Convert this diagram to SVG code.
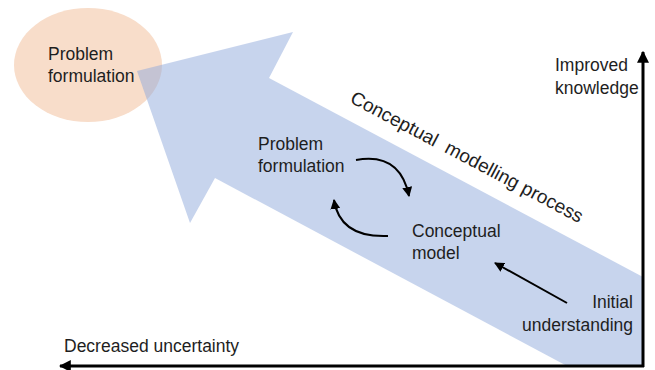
<svg xmlns="http://www.w3.org/2000/svg" width="655" height="370" viewBox="0 0 655 370">
  <style>
    .t { font-family: "Liberation Sans", Arial, sans-serif; font-size: 17.5px; fill: #1e1e1e; }
    .thin { fill: none; stroke: #000; stroke-width: 2; }
    .axis { fill: none; stroke: #000; stroke-width: 3; }
  </style>
  <defs>
    <marker id="ah" viewBox="0 0 10 10" refX="9" refY="5" markerWidth="5" markerHeight="5" orient="auto" markerUnits="strokeWidth">
      <path d="M0,0 L10,5 L0,10 Z" fill="#000"/>
    </marker>
    <marker id="ahAxis" viewBox="0 0 10 10" refX="9" refY="5" markerWidth="4" markerHeight="4" orient="auto" markerUnits="strokeWidth">
      <path d="M0,0 L10,5 L0,10 Z" fill="#000"/>
    </marker>
  </defs>
  <rect width="655" height="370" fill="#fff"/>

  <g id="problem-formulation-goal">
    <ellipse cx="88" cy="65" rx="74" ry="57" fill="#F8DDCA"/>
    <text class="t" x="48" y="60">Problem</text>
    <text class="t" x="48" y="82">formulation</text>
  </g>

  <g id="process-arrow">
    <polygon points="137,71 293,32 269,78 643,277 643,366 567,366 215,178 190,223" fill="#8FAADC" fill-opacity="0.5"/>
    <text class="t" style="font-size:19px" x="0" y="0" transform="translate(349,102) rotate(27.8)" textLength="260" lengthAdjust="spacing" xml:space="preserve">Conceptual  modelling process</text>
  </g>

  <g id="problem-formulation">
    <text class="t" x="258" y="150">Problem</text>
    <text class="t" x="258" y="172">formulation</text>
  </g>

  <g id="conceptual-model">
    <text class="t" x="412" y="237">Conceptual</text>
    <text class="t" x="412" y="259">model</text>
  </g>

  <g id="initial-understanding">
    <text class="t" x="633" y="308" text-anchor="end">Initial</text>
    <text class="t" x="633" y="331" text-anchor="end">understanding</text>
  </g>

  <g id="improved-knowledge">
    <text class="t" x="555" y="71">Improved</text>
    <text class="t" x="555" y="94">knowledge</text>
  </g>

  <g id="decreased-uncertainty">
    <text class="t" x="64" y="352">Decreased uncertainty</text>
  </g>

  <g id="connectors">
    <path class="axis" d="M643,367 L643,52" marker-end="url(#ahAxis)"/>
    <path class="axis" d="M644,366 L60,366" marker-end="url(#ahAxis)"/>
    <path class="thin" d="M567,303 L495,263" marker-end="url(#ah)"/>
    <path class="thin" d="M356,160 Q400,152 409,196" marker-end="url(#ah)"/>
    <path class="thin" d="M388,236 Q340,238 334,200" marker-end="url(#ah)"/>
  </g>
</svg>
